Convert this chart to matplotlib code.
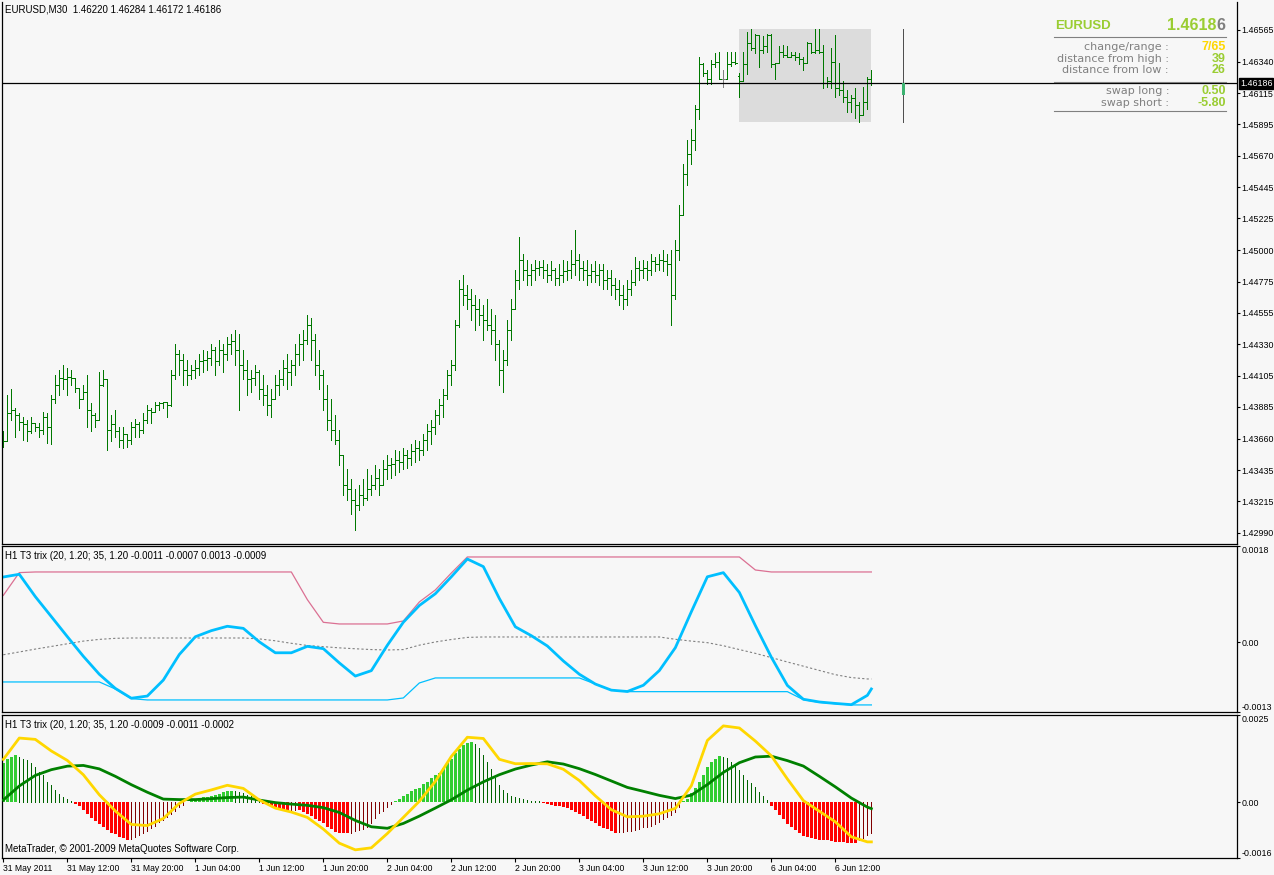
import numpy as np
import matplotlib
matplotlib.use("Agg")
import matplotlib.pyplot as plt
from matplotlib.patches import Rectangle
from matplotlib.lines import Line2D
import matplotlib.transforms as mtrans

plt.rcParams['font.family'] = ['Liberation Sans', 'DejaVu Sans']

# ---------------- data ----------------
symbol = "EURUSD"
timeframe = "M30"
first_open = 1.4368
gap_opens = {184: 1.4624}   # Monday open after weekend gap

highs = [1.4371, 1.4397, 1.4401, 1.4388, 1.4384, 1.4381, 1.4379, 1.4381, 1.4377, 1.4377,
         1.4385, 1.4384, 1.4397, 1.4411, 1.4415, 1.4418, 1.4416, 1.4415, 1.4409, 1.4402,
         1.4404, 1.4411, 1.4391, 1.4384, 1.4413, 1.4415, 1.4408, 1.4383, 1.4386, 1.4374,
         1.4374, 1.4369, 1.4378, 1.4380, 1.4378, 1.4384, 1.4390, 1.4388, 1.4392, 1.4392,
         1.4392, 1.4392, 1.4415, 1.4433, 1.4429, 1.4426, 1.4422, 1.4418, 1.4422, 1.4426,
         1.4429, 1.4428, 1.4433, 1.4431, 1.4436, 1.4433, 1.4438, 1.4440, 1.4443, 1.4440,
         1.4429, 1.4422, 1.4415, 1.4418, 1.4415, 1.4411, 1.4404, 1.4401, 1.4411, 1.4415,
         1.4422, 1.4426, 1.4422, 1.4433, 1.4440, 1.4443, 1.4454, 1.4452, 1.4440, 1.4429,
         1.4415, 1.4404, 1.4394, 1.4383, 1.4372, 1.4354, 1.4344, 1.4337, 1.4330, 1.4333,
         1.4337, 1.4344, 1.4340, 1.4347, 1.4344, 1.4351, 1.4354, 1.4352, 1.4358, 1.4357,
         1.4359, 1.4358, 1.4362, 1.4365, 1.4364, 1.4369, 1.4376, 1.4379, 1.4386, 1.4394,
         1.4401, 1.4415, 1.4422, 1.4450, 1.4479, 1.4482, 1.4475, 1.4472, 1.4468, 1.4465,
         1.4461, 1.4465, 1.4458, 1.4454, 1.4436, 1.4429, 1.4450, 1.4465, 1.4486, 1.4509,
         1.4497, 1.4493, 1.4490, 1.4493, 1.4492, 1.4493, 1.4490, 1.4492, 1.4487, 1.4490,
         1.4493, 1.4492, 1.4500, 1.4514, 1.4497, 1.4492, 1.4493, 1.4490, 1.4492, 1.4490,
         1.4490, 1.4486, 1.4486, 1.4480, 1.4479, 1.4475, 1.4479, 1.4486, 1.4495, 1.4492,
         1.4493, 1.4492, 1.4497, 1.4495, 1.4497, 1.4500, 1.4497, 1.4500, 1.4507, 1.4532,
         1.4561, 1.4578, 1.4586, 1.4603, 1.4637, 1.4633, 1.4628, 1.4635, 1.4640, 1.4641,
         1.4628, 1.4641, 1.4641, 1.4641, 1.4626, 1.4641, 1.4655, 1.4657, 1.4654, 1.4653,
         1.4652, 1.4654, 1.4654, 1.4633, 1.4645, 1.4646, 1.4645, 1.4641, 1.4641, 1.4640,
         1.4637, 1.4648, 1.4647, 1.4657, 1.4657, 1.4646, 1.4623, 1.4644, 1.4653, 1.4633,
         1.4620, 1.4614, 1.4610, 1.4615, 1.4605, 1.4616, 1.4623, 1.46284]

lows = [1.4360, 1.4364, 1.4379, 1.4367, 1.4372, 1.4365, 1.4364, 1.4370, 1.4371, 1.4367,
        1.4369, 1.4363, 1.4362, 1.4391, 1.4397, 1.4401, 1.4397, 1.4404, 1.4399, 1.4388,
        1.4394, 1.4374, 1.4371, 1.4374, 1.4379, 1.4403, 1.4358, 1.4364, 1.4367, 1.4360,
        1.4359, 1.4360, 1.4362, 1.4367, 1.4367, 1.4370, 1.4377, 1.4377, 1.4385, 1.4386,
        1.4388, 1.4381, 1.4389, 1.4408, 1.4411, 1.4404, 1.4404, 1.4408, 1.4409, 1.4411,
        1.4413, 1.4415, 1.4418, 1.4411, 1.4418, 1.4413, 1.4422, 1.4426, 1.4418, 1.4386,
        1.4408, 1.4397, 1.4399, 1.4404, 1.4394, 1.4390, 1.4383, 1.4381, 1.4394, 1.4397,
        1.4404, 1.4401, 1.4404, 1.4411, 1.4418, 1.4422, 1.4433, 1.4422, 1.4411, 1.4401,
        1.4386, 1.4372, 1.4365, 1.4362, 1.4347, 1.4326, 1.4322, 1.4312, 1.4301, 1.4315,
        1.4319, 1.4322, 1.4326, 1.4330, 1.4326, 1.4333, 1.4337, 1.4338, 1.4340, 1.4342,
        1.4344, 1.4345, 1.4347, 1.4349, 1.4351, 1.4354, 1.4358, 1.4362, 1.4369, 1.4376,
        1.4381, 1.4394, 1.4404, 1.4415, 1.4445, 1.4461, 1.4458, 1.4450, 1.4443, 1.4447,
        1.4436, 1.4443, 1.4433, 1.4422, 1.4404, 1.4399, 1.4418, 1.4436, 1.4458, 1.4472,
        1.4479, 1.4475, 1.4475, 1.4479, 1.4482, 1.4480, 1.4477, 1.4479, 1.4475, 1.4475,
        1.4477, 1.4479, 1.4480, 1.4482, 1.4479, 1.4479, 1.4475, 1.4477, 1.4477, 1.4475,
        1.4472, 1.4472, 1.4468, 1.4465, 1.4461, 1.4458, 1.4461, 1.4468, 1.4475, 1.4479,
        1.4480, 1.4479, 1.4482, 1.4485, 1.4486, 1.4485, 1.4482, 1.4447, 1.4465, 1.4493,
        1.4525, 1.4546, 1.4561, 1.4571, 1.4593, 1.4624, 1.4618, 1.4618, 1.4630, 1.4622,
        1.4616, 1.4622, 1.4631, 1.4632, 1.4609, 1.4620, 1.4625, 1.4642, 1.4640, 1.4630,
        1.4640, 1.4641, 1.4630, 1.4622, 1.4633, 1.4637, 1.4637, 1.4637, 1.4635, 1.4632,
        1.4628, 1.4633, 1.4640, 1.4640, 1.4640, 1.4615, 1.4616, 1.4615, 1.4609, 1.4610,
        1.4605, 1.4598, 1.4598, 1.4594, 1.4591, 1.4596, 1.4600, 1.46172]

closes = [1.4364, 1.4384, 1.4386, 1.4383, 1.4378, 1.4376, 1.4371, 1.4377, 1.4374, 1.4372,
          1.4381, 1.4374, 1.4394, 1.4404, 1.4409, 1.4408, 1.4410, 1.4409, 1.4402, 1.4394,
          1.4399, 1.4386, 1.4383, 1.4379, 1.4404, 1.4408, 1.4372, 1.4376, 1.4371, 1.4365,
          1.4369, 1.4365, 1.4374, 1.4376, 1.4372, 1.4379, 1.4386, 1.4385, 1.4390, 1.4391,
          1.4392, 1.4390, 1.4411, 1.4426, 1.4422, 1.4415, 1.4411, 1.4415, 1.4416, 1.4421,
          1.4422, 1.4423, 1.4429, 1.4421, 1.4429, 1.4426, 1.4433, 1.4435, 1.4429, 1.4418,
          1.4415, 1.4408, 1.4409, 1.4413, 1.4401, 1.4397, 1.4390, 1.4394, 1.4404, 1.4408,
          1.4416, 1.4413, 1.4418, 1.4426, 1.4433, 1.4436, 1.4447, 1.4436, 1.4418, 1.4411,
          1.4394, 1.4379, 1.4372, 1.4365, 1.4354, 1.4333, 1.4330, 1.4322, 1.4319, 1.4326,
          1.4324, 1.4330, 1.4333, 1.4338, 1.4333, 1.4344, 1.4347, 1.4348, 1.4351, 1.4349,
          1.4354, 1.4352, 1.4357, 1.4359, 1.4358, 1.4365, 1.4371, 1.4374, 1.4383, 1.4390,
          1.4397, 1.4411, 1.4418, 1.4447, 1.4472, 1.4468, 1.4465, 1.4461, 1.4458, 1.4454,
          1.4450, 1.4447, 1.4443, 1.4433, 1.4415, 1.4422, 1.4443, 1.4458, 1.4479, 1.4493,
          1.4486, 1.4482, 1.4486, 1.4487, 1.4488, 1.4486, 1.4482, 1.4486, 1.4480, 1.4482,
          1.4485, 1.4486, 1.4490, 1.4493, 1.4487, 1.4486, 1.4482, 1.4485, 1.4482, 1.4486,
          1.4479, 1.4480, 1.4475, 1.4472, 1.4468, 1.4465, 1.4472, 1.4477, 1.4487, 1.4486,
          1.4487, 1.4486, 1.4492, 1.4490, 1.4493, 1.4492, 1.4490, 1.4468, 1.4500, 1.4525,
          1.4554, 1.4568, 1.4578, 1.4600, 1.4632, 1.4626, 1.4622, 1.4632, 1.4634, 1.4622,
          1.4622, 1.4632, 1.4634, 1.4633, 1.4620, 1.4632, 1.4647, 1.4644, 1.4653, 1.4642,
          1.4645, 1.4653, 1.4632, 1.4633, 1.4641, 1.4639, 1.4637, 1.4639, 1.4637, 1.4636,
          1.4633, 1.4647, 1.4641, 1.4642, 1.4641, 1.4619, 1.4620, 1.4634, 1.4615, 1.4614,
          1.4609, 1.4605, 1.4608, 1.4603, 1.4596, 1.4605, 1.4622, 1.46186]

day_open = 1.4610

price_ticks = [1.46565, 1.46340, 1.46115, 1.45895, 1.45670, 1.45445, 1.45225, 1.45000,
               1.44775, 1.44555, 1.44330, 1.44105, 1.43885, 1.43660, 1.43435, 1.43215, 1.42990]

time_labels = ["31 May 2011", "31 May 12:00", "31 May 20:00", "1 Jun 04:00", "1 Jun 12:00",
               "1 Jun 20:00", "2 Jun 04:00", "2 Jun 12:00", "2 Jun 20:00", "3 Jun 04:00",
               "3 Jun 12:00", "3 Jun 20:00", "6 Jun 04:00", "6 Jun 12:00"]
time_label_bars = [0, 16, 32, 48, 64, 80, 96, 112, 128, 144, 160, 176, 192, 208]

# indicator samples (bar index) - values in 1e-4
ind_idx = [0, 4, 8, 12, 16, 20, 24, 28, 32, 36, 40, 44, 48, 52, 56, 60, 64, 68, 72, 76,
           80, 84, 88, 92, 96, 100, 104, 108, 112, 116, 120, 124, 128, 132, 136, 140, 144, 148, 152, 156,
           160, 164, 168, 172, 176, 180, 184, 188, 192, 196, 200, 204, 208, 212, 216, 217]

trix = [12.21, 12.72, 8.55, 4.82, 1.08, -2.59, -5.95, -8.59, -10.43, -10.02,
        -7.04, -2.26, 1.05, 2.19, 3.01, 2.62, 0.10, -1.94, -1.94, -0.74,
        -1.17, -3.83, -6.29, -5.28, -0.54, 3.76, 6.89, 9.09, 12.25, 15.57,
        14.15, 8.20, 2.91, 1.25, -0.67, -3.47, -5.95, -7.78, -8.92, -9.17,
        -8.01, -5.26, -0.99, 5.73, 12.25, 13.02, 9.32, 3.14, -2.78, -8.04,
        -10.62, -11.13, -11.40, -11.63, -9.89, -8.70]
trix_upper = [8.78, 13.03] + [13.15] * 17 + [7.99, 3.75] + [3.44] * 4 + [4.0, 7.55, 9.79, 12.96] \
             + [15.95] * 18 + [13.52] + [13.15] * 8
trix_lower = [-7.39] * 7 + [-8.7, -10.5] + [-10.75] * 16 + [-10.38, -7.58] + [-6.64] * 10 \
             + [-7.78, -8.92] + [-9.2] * 11 + [-10.7, -11.2, -11.45, -11.68, -11.68, -11.68]
trix_mid = [-2.31, -1.79, -1.25, -0.76, -0.26, 0.24, 0.56, 0.76] + [0.82] * 8 \
           + [0.65, 0.30, -0.17, -0.58, -0.80, -1.02, -1.19, -1.34, -1.42, -1.34, -0.52, 0.08, 0.54, 0.93] \
           + [1.01] * 12 \
           + [0.58, 0.24, -0.05, -0.63, -1.34, -2.05, -2.84, -3.66, -4.44, -5.24, -6.03, -6.57, -6.83, -6.83]

sig_gold = [12.27, 18.39, 18.01, 14.69, 11.98, 7.88, 2.13, -2.51, -6.38, -6.70,
            -4.68, -0.35, 2.31, 3.52, 4.85, 3.95, 0.63, -1.70, -2.83, -4.36,
            -7.71, -11.75, -13.66, -13.08, -8.98, -4.36, 0.26, 5.97, 13.11, 18.62,
            18.27, 12.30, 11.03, 11.08, 11.00, 9.44, 6.21, 1.82, -2.14, -4.19,
            -4.01, -3.32, -1.76, 4.73, 17.70, 21.88, 21.28, 17.52, 13.28, 6.67,
            0.46, -2.60, -5.63, -9.93, -11.38, -11.38]
sig_green = [0.63, 4.65, 7.68, 9.32, 10.33, 10.54, 9.55, 7.42, 5.02, 2.86,
             0.89, 0.75, 0.75, 1.01, 1.33, 1.47, 0.61, -0.12, -0.55, -0.90,
             -1.56, -2.95, -5.23, -7.05, -7.48, -6.09, -3.99, -1.68, 0.69, 3.46,
             5.83, 7.88, 9.50, 10.65, 11.58, 10.94, 9.61, 7.94, 6.09, 4.24,
             3.12, 1.96, 1.04, 2.02, 5.05, 8.54, 11.32, 12.96, 13.19, 11.92,
             10.36, 7.42, 4.39, 1.18, -1.42, -1.85]

hist = [11.1, 12.5, 13.0, 13.5, 13.0, 12.5, 12.0, 11.1, 10.1, 8.6, 7.7, 5.7, 4.8, 3.6, 2.4, 1.6, 1.0, 0.3,
        -0.5, -1.1, -2.2, -3.4, -4.5, -5.3, -6.3, -7.2, -8.0, -8.7, -9.2, -9.9, -10.3, -10.9,
        -10.6, -10.1, -9.5, -8.8, -8.2, -7.4, -6.8, -5.8, -5.1, -4.2, -3.4, -2.4, -1.5, -0.7,
        0.1,
        0.3, 0.7, 0.95, 1.4, 1.6, 1.9, 2.2, 2.4, 2.9, 3.1, 3.3,
        3.1, 2.9, 2.6, 2.2, 1.7, 1.1, 0.5,
        -0.5, -0.7, -1.0, -1.5, -1.9, -2.2, -2.4,
        -2.2, -2.1,
        -2.3, -2.8, -3.5, -4.1, -4.7, -5.4, -6.1, -7.0, -7.8, -8.5, -8.8, -8.9, -8.95, -8.8, -8.4, -8.0,
        -7.7, -7.0, -6.0, -4.6, -3.2, -2.4, -1.5, -0.6, 0.35, 1.0, 1.7, 2.4, 3.1, 3.7, 4.2, 5.1, 5.9, 6.8,
        7.7, 8.5, 9.8, 11.1, 12.4, 14.0, 15.2, 16.3, 17.0, 17.4, 16.8, 15.6, 13.6, 11.5, 9.4, 7.0, 4.8,
        3.4, 2.6, 1.9, 1.5, 1.2, 0.8, 0.6, 0.4, 0.35, 0.3, -0.1, -0.6, -0.9, -0.95, -1.2, -1.5, -1.8,
        -2.2, -2.8, -3.4, -4.0, -4.7, -5.4, -6.1, -6.8, -7.3, -7.8, -8.2, -8.7, -8.6, -8.5, -8.4, -8.3,
        -7.9, -7.6,
        -7.2, -7.0, -6.7, -6.2, -5.6, -4.9, -4.2, -3.6, -2.9, -1.5, 0.2, 1.0, 2.7, 4.0, 5.9, 7.9, 10.1,
        11.5, 12.5, 13.2, 12.9, 12.7, 11.5, 10.6, 9.3, 7.9, 6.5, 5.6, 4.4, 3.0, 1.8, 0.55, -1.1, -2.3,
        -3.8, -4.9, -6.2, -7.1, -8.1, -8.9, -9.6, -9.9, -10.3, -10.6, -10.8, -10.85, -10.9, -11.1,
        -11.3, -11.4, -11.5, -11.6, -11.65, -11.7, -10.8, -10.4, -9.4, -8.7]

info_rows = [("change/range :", "7/65", '#FFD700'),
             ("distance from high :", "39", '#9ACD32'),
             ("distance from low :", "26", '#9ACD32')]
swap_rows = [("swap long :", "0.50", '#9ACD32'),
             ("swap short :", "-5.80", '#9ACD32')]

# ---------------- figure ----------------
W, H = 1274, 875
BG = '#F7F7F7'
fig = plt.figure(figsize=(W / 100, H / 100), dpi=100)
fig.patch.set_facecolor(BG)
PX = 0.72  # one pixel in points


def add_ax(x0, y0, x1, y1):
    ax = fig.add_axes([x0 / W, 1 - y1 / H, (x1 - x0) / W, (y1 - y0) / H])
    ax.set_facecolor(BG)
    for s in ax.spines.values():
        s.set_color('black')
        s.set_linewidth(0.9)
    return ax


XL = (-0.325, 308.4)
ax1 = add_ax(2, 2, 1237, 544)
ax2 = add_ax(2, 546, 1237, 712)
ax3 = add_ax(2, 715, 1237, 858)
for ax in (ax1, ax2, ax3):
    ax.set_xlim(*XL)
    ax.yaxis.tick_right()
    ax.tick_params(axis='y', direction='out', length=2.5, width=0.8, pad=0.6,
                   labelsize=6.4, colors='black')
ax1.spines['top'].set_visible(False)
ax1.set_xticks([])
ax2.set_xticks([])

# ---- main price panel ----
n = len(closes)
idx = np.arange(n)
opens = [first_open] + closes[:-1]
for k, v in gap_opens.items():
    opens[k] = v
opens = np.array(opens)
highs_a = np.array(highs)
lows_a = np.array(lows)
closes_a = np.array(closes)

ax1.set_ylim(1.42910, 1.46764)
ax1.set_yticks(price_ticks)
ax1.set_yticklabels([f"{p:.5f}" for p in price_ticks])

day_start = 184
box_hi = highs_a[day_start:].max()
box_lo = lows_a[day_start:].min()
ax1.add_patch(Rectangle((day_start, box_lo), (n - 1) - day_start, box_hi - box_lo,
                        facecolor='#DCDCDC', edgecolor='none', zorder=0))

cols = ['#808080' if o == c else '#007800' for o, c in zip(opens, closes_a)]
ax1.vlines(idx, lows_a, highs_a, colors=cols, lw=PX, antialiased=False, zorder=2)
ax1.hlines(opens, idx - 0.42, idx, colors=cols, lw=PX, antialiased=False, zorder=2)
ax1.hlines(closes_a, idx, idx + 0.42, colors=cols, lw=PX, antialiased=False, zorder=2)

# bid line
ax1.axhline(closes_a[-1], color='black', lw=0.9, zorder=3)

# daily candle at the right
dx = n - 1 + 8
ax1.vlines([dx], [box_lo], [box_hi], colors='#505050', lw=PX, antialiased=False, zorder=2)
ax1.add_patch(Rectangle((dx - 0.4, day_open), 0.8, closes_a[-1] - day_open,
                        facecolor='#3CB371', edgecolor='none', zorder=3))

# price box on axis
blend = mtrans.blended_transform_factory(ax1.transAxes, ax1.transData)
ax1.text(1.0 + 3.0 / 1235, closes_a[-1], f"{closes_a[-1]:.5f}", transform=blend,
         ha='left', va='center', color='white', fontsize=6.4, clip_on=False, zorder=5,
         bbox=dict(boxstyle='square,pad=0.1', fc='black', ec='black'))

# title
last = (opens[-1], highs_a[-1], lows_a[-1], closes_a[-1])
fig.text(5 / W, 1 - 10 / H, f"{symbol},{timeframe}  " + " ".join(f"{v:.5f}" for v in last),
         fontsize=7, va='center', ha='left', color='black')


def T(x, y, s, **kw):
    fig.text(x / W, 1 - y / H, s, **kw)


# info box
T(1055, 26, symbol, fontsize=9.5, fontweight='bold', color='#9ACD32', va='center', ha='left')
price_str = f"{closes_a[-1]:.5f}"
T(1225.5, 26, price_str[-1], fontsize=11.5, fontweight='bold', color='#7F7F7F', va='center', ha='right')
T(1216.5, 26, price_str[:-1], fontsize=11.5, fontweight='bold', color='#9ACD32', va='center', ha='right')
for yy in (37, 82, 111):
    fig.add_artist(Line2D([1054 / W, 1226 / W], [1 - yy / H, 1 - yy / H], color='#808080', lw=0.8))
for (lab, val, c), yy in zip(info_rows, (47.5, 58.5, 70)):
    T(1169, yy, lab, fontsize=8, color='#808080', va='center', ha='right', family='DejaVu Sans')
    T(1225.5, yy, val, fontsize=9, fontweight='bold', color=c, va='center', ha='right')
for (lab, val, c), yy in zip(swap_rows, (91.5, 102.5)):
    T(1169, yy, lab, fontsize=8, color='#808080', va='center', ha='right', family='DejaVu Sans')
    T(1225.5, yy, val, fontsize=9, fontweight='bold', color=c, va='center', ha='right')

# ---- panel 2 : T3 trix with bands ----
ii = np.array(ind_idx)
sc = 1e-4
ax2.set_ylim(-0.0013, 0.0018)
ax2.plot(ii, np.array(trix_mid) * sc, color='#808080', lw=0.8, ls=(0, (2, 2)))
ax2.plot(ii, np.array(trix_upper) * sc, color='#DB7093', lw=0.9)
ax2.plot(ii, np.array(trix_lower) * sc, color='#00BFFF', lw=0.9)
ax2.plot(ii, np.array(trix) * sc, color='#00BFFF', lw=2.0)
ax2.set_yticks([0.0018, 0.0, -0.0013])
ax2.set_yticklabels(['0.0018', '0.00', '-0.0013'])
lb = ax2.get_yticklabels()
lb[0].set_va('top'); lb[2].set_va('bottom')
T(5, 556, "H1 T3 trix (20, 1.20; 35, 1.20 -0.0011 -0.0007 0.0013 -0.0009",
  fontsize=7, va='center', ha='left', color='black')

# ---- panel 3 : histogram + signal lines ----
ax3.set_ylim(-0.0016, 0.0025)
hv = np.array(hist) * sc
prev = np.concatenate([[hv[0]], hv[:-1]])
thick_x, thick_v, thick_c, thin_x, thin_v, thin_c = [], [], [], [], [], []
for i, (v, p) in enumerate(zip(hv, prev)):
    if v >= 0:
        if v >= p:
            thick_x.append(i); thick_v.append(v); thick_c.append('#32CD32')
        else:
            thin_x.append(i); thin_v.append(v); thin_c.append('#006400')
    else:
        if v <= p:
            thick_x.append(i); thick_v.append(v); thick_c.append('#FF0000')
        else:
            thin_x.append(i); thin_v.append(v); thin_c.append('#800000')
ax3.bar(thick_x, thick_v, width=0.72, color=thick_c, linewidth=0, zorder=1)
ax3.vlines(thin_x, 0, thin_v, colors=thin_c, lw=PX, antialiased=False, zorder=1)
ax3.plot(ii, np.array(sig_green) * sc, color='#008000', lw=2.0, zorder=3)
ax3.plot(ii, np.array(sig_gold) * sc, color='#FFD700', lw=2.0, zorder=4)
ax3.set_yticks([0.0025, 0.0, -0.0016])
ax3.set_yticklabels(['0.0025', '0.00', '-0.0016'])
lb = ax3.get_yticklabels()
lb[0].set_va('top'); lb[2].set_va('bottom')
T(5, 725, "H1 T3 trix (20, 1.20; 35, 1.20 -0.0009 -0.0011 -0.0002",
  fontsize=7, va='center', ha='left', color='black')
T(5, 849, "MetaTrader, © 2001-2009 MetaQuotes Software Corp.",
  fontsize=7, va='center', ha='left', color='black')

ax3.set_xticks(time_label_bars)
ax3.set_xticklabels(time_labels)
ax3.tick_params(axis='x', direction='out', length=3, width=0.8, pad=1.5, labelsize=6.2, colors='black')
for l in ax3.get_xticklabels():
    l.set_ha('left')

fig.savefig('out.png', dpi=100, facecolor=BG)
